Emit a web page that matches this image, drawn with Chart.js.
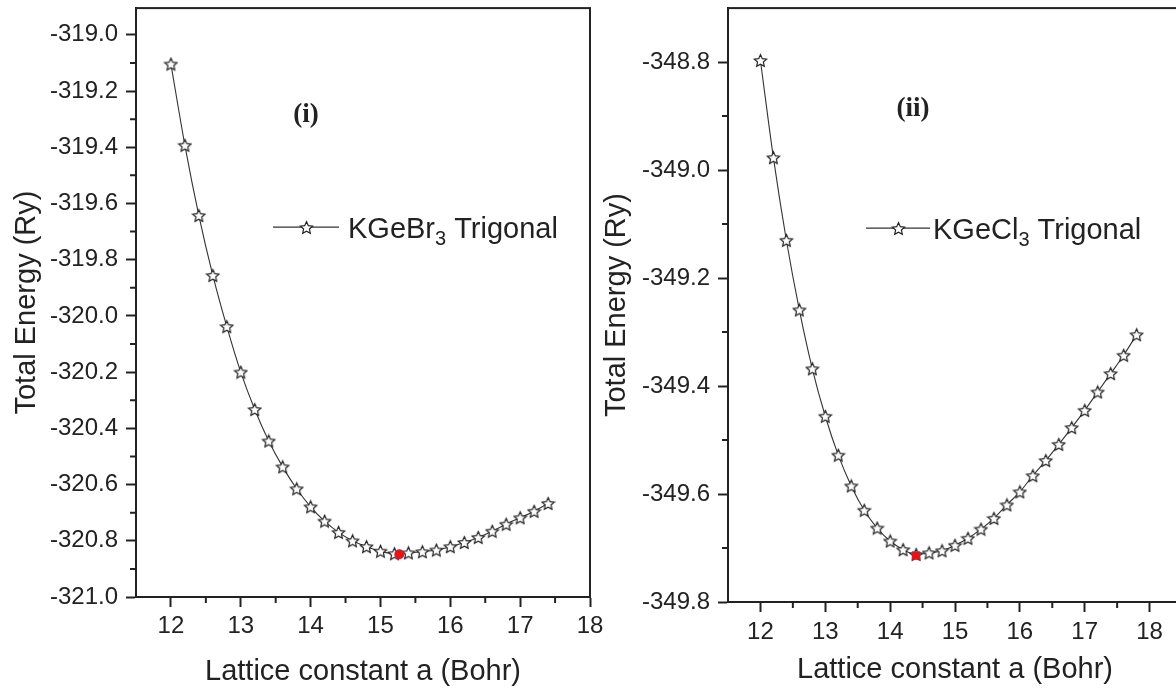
<!DOCTYPE html>
<html>
<head>
<meta charset="utf-8">
<title>Total energy vs lattice constant</title>
<script src="https://cdn.jsdelivr.net/npm/chart.js@4"></script>
<style>
  html, body { margin: 0; padding: 0; background: #fff; overflow: hidden; }
  body { width: 1176px; height: 695px; position: relative; }
  canvas { position: absolute; top: 0; }
  #panelBr { left: 0; }
  #panelCl { left: 590px; }
</style>
</head>
<body>
<canvas id="panelBr" width="620" height="695"></canvas>
<canvas id="panelCl" width="610" height="695"></canvas>
<script>
// KGeBr3 trigonal: lattice constant (Bohr) vs total energy (Ry)
const latticeBr = [12.0, 12.2, 12.4, 12.6, 12.8, 13.0, 13.2, 13.4, 13.6, 13.8,
                   14.0, 14.2, 14.4, 14.6, 14.8, 15.0, 15.2, 15.4, 15.6, 15.8,
                   16.0, 16.2, 16.4, 16.6, 16.8, 17.0, 17.2, 17.4];
const energyBr = [-319.104, -319.393, -319.643, -319.856, -320.038, -320.200, -320.333, -320.445, -320.537, -320.615,
                  -320.679, -320.730, -320.770, -320.800, -320.821, -320.837, -320.846, -320.843, -320.839, -320.833,
                  -320.821, -320.806, -320.788, -320.766, -320.741, -320.718, -320.695, -320.667];

// KGeCl3 trigonal
const latticeCl = [12.0, 12.2, 12.4, 12.6, 12.8, 13.0, 13.2, 13.4, 13.6, 13.8,
                   14.0, 14.2, 14.4, 14.6, 14.8, 15.0, 15.2, 15.4, 15.6, 15.8,
                   16.0, 16.2, 16.4, 16.6, 16.8, 17.0, 17.2, 17.4, 17.6, 17.8];
const energyCl = [-348.797, -348.977, -349.130, -349.259, -349.368, -349.456, -349.528, -349.585, -349.630, -349.663,
                  -349.687, -349.703, -349.712, -349.709, -349.705, -349.695, -349.682, -349.665, -349.645, -349.620,
                  -349.596, -349.566, -349.538, -349.508, -349.477, -349.445, -349.411, -349.377, -349.343, -349.305];

// fitted minimum (equilibrium) of each curve: [a, E]
const minimumBr = [15.27, -320.848];
const minimumCl = [14.40, -349.714];

const xTicks = [12, 13, 14, 15, 16, 17, 18];
const yTicksBr = [-321.0, -320.8, -320.6, -320.4, -320.2, -320.0, -319.8, -319.6, -319.4, -319.2, -319.0];
const yTicksCl = [-349.8, -349.6, -349.4, -349.2, -349.0, -348.8];

const FONT = "'Liberation Sans', Arial, sans-serif";
const INK = '#222';
const RED = '#e3151c';

// hollow five-point star used as the point marker
function makeStar(size) {
  const c = document.createElement('canvas');
  c.width = c.height = size;
  const g = c.getContext('2d');
  const cx = size / 2, cy = size / 2 + 0.6, R = size / 2 - 1, r = R * 0.47;
  g.beginPath();
  for (let i = 0; i < 10; i++) {
    const ang = -Math.PI / 2 + i * Math.PI / 5;
    const rad = i % 2 ? r : R;
    g.lineTo(cx + rad * Math.cos(ang), cy + rad * Math.sin(ang));
  }
  g.closePath();
  g.fillStyle = '#fff';
  g.fill();
  g.strokeStyle = INK;
  g.lineWidth = 1.2;
  g.stroke();
  return c;
}
const star = makeStar(15);

// halfway positions between labelled ticks, kept strictly inside the axis range
function halfSteps(scale) {
  const vals = scale.ticks.map(t => t.value);
  const out = [];
  for (let i = 0; i < vals.length - 1; i++) out.push((vals[i] + vals[i + 1]) / 2);
  const h = (vals[1] - vals[0]) / 2;
  const lo = vals[0] - h, hi = vals[vals.length - 1] + h;
  if (lo > scale.min + 1e-6) out.push(lo);
  if (hi < scale.max - 1e-6) out.push(hi);
  return out;
}

// frame, minor ticks, legend and panel tag
const panelDecor = {
  id: 'panelDecor',
  afterDraw(chart, args, o) {
    const { ctx, chartArea: a, scales } = chart;
    ctx.save();
    ctx.strokeStyle = INK;
    ctx.lineWidth = 2;
    ctx.strokeRect(a.left, a.top, a.right - a.left, a.bottom - a.top);

    ctx.beginPath();
    halfSteps(scales.x).forEach(v => {
      const px = scales.x.getPixelForValue(v);
      ctx.moveTo(px, a.bottom);
      ctx.lineTo(px, a.bottom + 6);
    });
    halfSteps(scales.y).forEach(v => {
      const py = scales.y.getPixelForValue(v);
      ctx.moveTo(a.left, py);
      ctx.lineTo(a.left - 6, py);
    });
    ctx.stroke();

    const lx = a.left + o.legendX, ly = a.top + o.legendY;
    ctx.lineWidth = 1.2;
    ctx.strokeStyle = '#333';
    ctx.beginPath();
    ctx.moveTo(lx, ly);
    ctx.lineTo(lx + o.legendLine, ly);
    ctx.stroke();
    ctx.drawImage(star, Math.round(lx + o.legendLine / 2 - star.width / 2), Math.round(ly - star.height / 2));

    ctx.fillStyle = INK;
    ctx.textAlign = 'left';
    ctx.textBaseline = 'alphabetic';
    let tx = lx + o.legendLine + o.legendGap;
    const base = ly + 11;
    ctx.font = `29px ${FONT}`;
    ctx.fillText(o.formula[0], tx, base);
    tx += ctx.measureText(o.formula[0]).width;
    ctx.font = `20px ${FONT}`;
    ctx.fillText(o.formula[1], tx, base + 7);
    tx += ctx.measureText(o.formula[1]).width;
    ctx.font = `29px ${FONT}`;
    ctx.fillText(o.formula[2], tx, base);

    ctx.font = "bold 27px 'Liberation Serif', 'Times New Roman', serif";
    ctx.textAlign = 'center';
    ctx.textBaseline = 'middle';
    ctx.fillText(o.tag, a.left + o.tagX, a.top + o.tagY);
    ctx.restore();
  }
};

function axisStyle() {
  return {
    grid: { drawOnChartArea: false, drawTicks: true, tickLength: 10, tickWidth: 2, tickColor: INK },
    border: { display: true, width: 2, color: INK }
  };
}

// fixed axis boxes, no extra room reserved for overhanging end labels
function fixBox(s, size) {
  if (s.isHorizontal()) s.height = size; else s.width = size;
  s.paddingLeft = s.paddingRight = s.paddingTop = s.paddingBottom = 0;
}

function panel(id, lattice, energy, minimum, yTicks, p) {
  const points = lattice.map((a, i) => ({ x: a, y: energy[i] }));
  return new Chart(document.getElementById(id), {
    type: 'line',
    data: {
      datasets: [
        {
          data: [{ x: minimum[0], y: minimum[1] }],
          showLine: false,
          pointStyle: p.minStyle,
          pointRadius: p.minRadius,
          pointBorderWidth: 0,
          backgroundColor: RED,
          borderColor: RED,
          order: 0
        },
        {
          data: points,
          borderColor: '#333',
          borderWidth: 1.1,
          pointStyle: star,
          pointRadius: 7,
          cubicInterpolationMode: 'monotone',
          fill: false,
          order: 1
        }
      ]
    },
    options: {
      responsive: false,
      animation: false,
      events: [],
      layout: { padding: p.padding },
      plugins: {
        legend: { display: false },
        tooltip: { enabled: false },
        panelDecor: p.decor
      },
      scales: {
        x: {
          type: 'linear',
          min: 11.5,
          max: p.xMax,
          afterBuildTicks: s => { s.ticks = xTicks.map(v => ({ value: v })); },
          afterFit: s => fixBox(s, p.xHeight),
          ticks: {
            font: { family: FONT, size: 24 },
            color: INK,
            padding: p.xPad,
            maxRotation: 0,
            autoSkip: false,
            callback: v => String(v)
          },
          title: {
            display: true,
            text: 'Lattice constant a (Bohr)',
            font: { family: FONT, size: 29 },
            color: INK,
            padding: { top: 0, bottom: p.xTitlePad }
          },
          ...axisStyle()
        },
        y: {
          type: 'linear',
          min: p.yMin,
          max: p.yMax,
          afterBuildTicks: s => { s.ticks = yTicks.map(v => ({ value: v })); },
          afterFit: s => fixBox(s, p.yWidth),
          ticks: {
            font: { family: FONT, size: 24 },
            color: INK,
            padding: 8,
            autoSkip: false,
            callback: v => v.toFixed(1)
          },
          title: {
            display: true,
            text: 'Total Energy (Ry)',
            font: { family: FONT, size: 29 },
            color: INK,
            padding: { top: 10, bottom: 0 }
          },
          ...axisStyle()
        }
      }
    },
    plugins: [panelDecor]
  });
}

panel('panelBr', latticeBr, energyBr, minimumBr, yTicksBr, {
  padding: { top: 6, right: 30, left: 0, bottom: 0 },
  xMax: 18, yMin: -321.0, yMax: -318.905,
  xHeight: 98, yWidth: 136, xPad: 5, xTitlePad: 6,
  minStyle: 'circle', minRadius: 5,
  decor: { legendX: 137, legendY: 219, legendLine: 66, legendGap: 9,
           formula: ['KGeBr', '3', ' Trigonal'], tag: '(i)', tagX: 170, tagY: 107 }
});

panel('panelCl', latticeCl, energyCl, minimumCl, yTicksCl, {
  padding: { top: 8, right: 18, left: 0, bottom: 0 },
  xMax: 18.5, yMin: -349.8, yMax: -348.70,
  xHeight: 93, yWidth: 138, xPad: 6, xTitlePad: 8,
  minStyle: 'rect', minRadius: 6,
  decor: { legendX: 138, legendY: 220, legendLine: 64, legendGap: 3,
           formula: ['KGeCl', '3', ' Trigonal'], tag: '(ii)', tagX: 185, tagY: 101 }
});
</script>
</body>
</html>
